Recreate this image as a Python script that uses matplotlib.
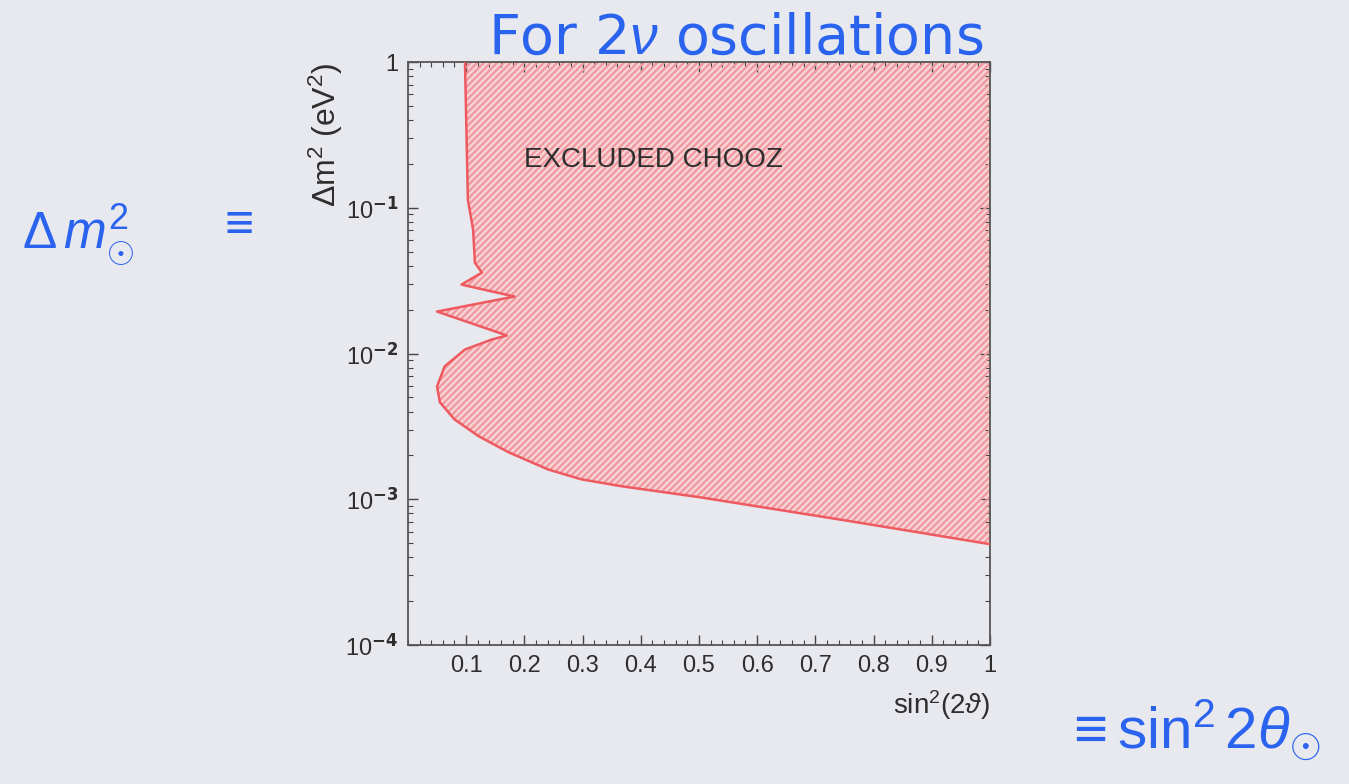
import numpy as np
import matplotlib
matplotlib.use("Agg")
import matplotlib.pyplot as plt
from matplotlib.ticker import FixedLocator, FuncFormatter, MultipleLocator, LogLocator, NullFormatter

# CHOOZ exclusion contour (sin^2(2theta), delta m^2 in eV^2), top to bottom
sin2 = [0.098, 0.103, 0.112, 0.115, 0.127, 0.092, 0.183, 0.050, 0.170,
        0.144, 0.098, 0.063, 0.050, 0.055, 0.080, 0.122, 0.173, 0.241,
        0.298, 0.366, 0.503, 0.760, 1.000]
dm2 = [1.0, 0.1135, 0.0707, 0.042, 0.0359, 0.0297, 0.0246, 0.0194, 0.0133,
       0.01247, 0.01065, 0.00815, 0.00594, 0.00462, 0.00353, 0.00270, 0.00210,
       0.00160, 0.00137, 0.00123, 0.00103, 0.000707, 0.000492]

x_ticks = [0.1, 0.2, 0.3, 0.4, 0.5, 0.6, 0.7, 0.8, 0.9, 1.0]
x_tick_labels = ["0.1", "0.2", "0.3", "0.4", "0.5", "0.6", "0.7", "0.8", "0.9", "1"]
y_ticks = [1e-4, 1e-3, 1e-2, 1e-1, 1.0]

bg = "#e8e8ef"
ink = "#2e2e2e"
plt.rcParams["font.family"] = ["Liberation Sans", "DejaVu Sans"]
plt.rcParams["mathtext.fontset"] = "custom"
plt.rcParams["mathtext.rm"] = "Liberation Sans"
plt.rcParams["mathtext.it"] = "Liberation Sans:italic"
plt.rcParams["hatch.linewidth"] = 1.6

fig = plt.figure(figsize=(13.49, 7.84), dpi=100, facecolor=bg)
ax = fig.add_axes([0.3024, 0.1773, 0.4314, 0.7436], facecolor=bg)
ax.set_yscale("log")
ax.set_xlim(0, 1)
ax.set_ylim(1e-4, 1)

# Excluded region: right of the contour
poly_x = list(sin2) + [1.0, 1.0]
poly_y = list(dm2) + [1.0, 1.0]
ax.fill(poly_x, poly_y, facecolor="#f7d3d6", edgecolor="none", zorder=1)
ax.fill(poly_x, poly_y, facecolor="none", edgecolor="#f0979d", hatch="/////",
        linewidth=0, zorder=2)
ax.plot(sin2, dm2, color="#ee5a60", lw=1.8, zorder=3)

ax.text(0.2, 0.19, "EXCLUDED CHOOZ", fontsize=20, color=ink, zorder=4)

# Axes styling
for s in ax.spines.values():
    s.set_color("#555555")
    s.set_linewidth(1.3)
ax.xaxis.set_major_locator(FixedLocator(x_ticks))
ax.set_xticklabels(x_tick_labels)
ax.xaxis.set_minor_locator(MultipleLocator(0.02))
ax.yaxis.set_major_locator(FixedLocator(y_ticks))
ax.yaxis.set_major_formatter(FuncFormatter(
    lambda v, p: "1" if abs(v - 1) < 1e-9 else r"10$^{\mathbf{%d}}$" % round(np.log10(v))))
ax.yaxis.set_minor_locator(LogLocator(base=10, subs=np.arange(2, 10)))
ax.yaxis.set_minor_formatter(NullFormatter())
ax.tick_params(which="both", direction="in", top=True, right=True, colors="#444444",
               labelcolor=ink)
ax.tick_params(which="major", length=7, width=1.0, labelsize=17, pad=7)
ax.tick_params(which="minor", length=3.5, width=0.8)

ax.set_xlabel(r"sin$^2$(2$\vartheta$)", fontsize=20, color=ink, loc="right", labelpad=8)
ax.set_ylabel(r"$\Delta$m$^2$ (eV$^2$)", fontsize=23, color=ink, loc="top", labelpad=0)

# Blue annotations around the plot
blue = "#2a63ee"
fig.text(0.545, 0.950, r"For 2$\nu$ oscillations", fontsize=40, color=blue,
         ha="center", va="center", family="DejaVu Sans")
fig.text(0.058, 0.70, r"$\Delta\,m^2_{\odot}$", fontsize=37, color=blue,
         ha="center", va="center", family="DejaVu Sans")
fig.text(0.174, 0.715, r"$\equiv$", fontsize=36, color=blue, ha="center", va="center",
         family="DejaVu Sans")
fig.text(0.884, 0.068, r"$\equiv \sin^2 2\theta_{\odot}$", fontsize=42, color=blue,
         ha="center", va="center", family="DejaVu Sans")

fig.savefig("out.png", dpi=100, facecolor=bg)
